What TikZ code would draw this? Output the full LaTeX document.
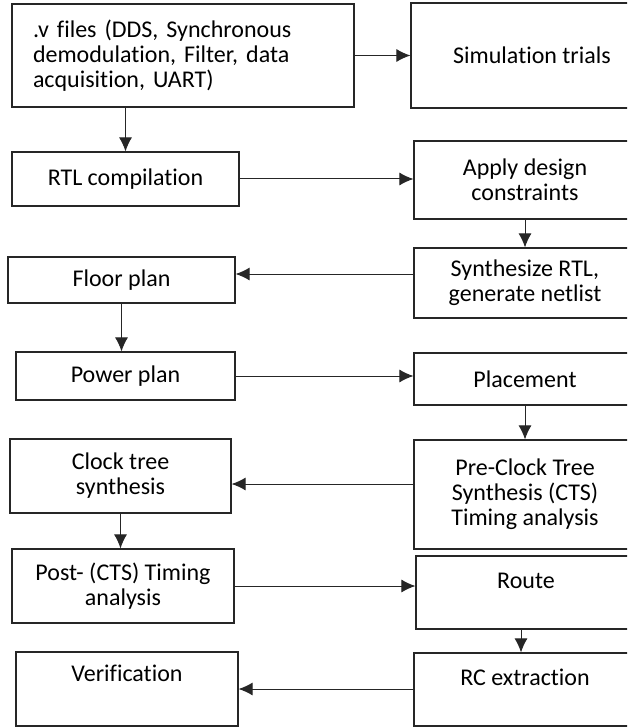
\documentclass[tikz,border=0pt]{standalone}
\usepackage{fontspec}
\setmainfont{Carlito}[RawFeature={-liga;-clig;-calt;-rlig;-dlig}]
\usepackage{tikz}
\usetikzlibrary{shapes,arrows}
\usetikzlibrary{arrows.meta}
\tikzstyle{block} = [rectangle, draw=black!85, line width=1.2pt, inner sep=0pt,
    align=center, font=\fontsize{24}{25}\selectfont]
\tikzstyle{line} = [draw, black!85, line width=1pt, -{Latex[length=14pt, width=13pt]}]

\begin{document}
\begin{tikzpicture}[x=1pt, y=-1pt]
  \clip (0,0) rectangle (627,727);
  % nodes
  \node [block, minimum width=342pt, minimum height=103pt, text width=300pt, align=left](vfiles) at (183,55.5){.v files (DDS, Synchronous\\demodulation, Filter, data\\acquisition, UART)};
  \node [block, minimum width=242pt, minimum height=105pt](sim) at (532,55.5){Simulation trials};
  \node [block, minimum width=227pt, minimum height=54pt](rtl) at (125.5,179){RTL compilation};
  \node [block, minimum width=222pt, minimum height=78pt](apply) at (525,180){Apply design\\constraints};
  \node [block, minimum width=222pt, minimum height=70pt](synth) at (525,283){Synthesize RTL,\\generate netlist};
  \node [block, minimum width=227pt, minimum height=46pt](floor) at (121.5,280){Floor plan};
  \node [block, minimum width=219pt, minimum height=48pt](power) at (125.5,376){Power plan};
  \node [block, minimum width=222pt, minimum height=52pt](place) at (525,379){Placement};
  \node [block, minimum width=221pt, minimum height=74pt](clock) at (120.5,476){Clock tree\\synthesis};
  \node [block, minimum width=222pt, minimum height=109pt](pre) at (525,494.5){Pre-Clock Tree\\Synthesis (CTS)\\Timing analysis};
  \node [block, minimum width=222pt, minimum height=74pt](post) at (123,586){Post- (CTS) Timing\\analysis};
  \node [block, minimum width=220pt, text height=32pt, text depth=41pt](route) at (526,592.5){Route};
  \node [block, minimum width=222pt, text height=29pt, text depth=45pt](verif) at (127,689){Verification};
  \node [block, minimum width=222pt, text height=32pt, text depth=41pt](rc) at (525,689.5){RC extraction};
  % edges
  \path [line] (vfiles) -- (sim);
  \path [line] (vfiles.south -| rtl.north) -- (rtl.north);
  \path [line] (rtl.east) -- (rtl.east -| apply.west);
  \path [line] (apply.south) -- (apply.south |- synth.north);
  \path [line] ([yshift=6pt]floor.east -| synth.west) -- ([yshift=6pt]floor.east);
  \path [line] (floor.south) -- (floor.south |- power.north);
  \path [line] (power.east) -- (power.east -| place.west);
  \path [line] (place.south) -- (place.south |- pre.north);
  \path [line] ([yshift=-8pt]clock.east -| pre.west) -- ([yshift=-8pt]clock.east);
  \path [line] (clock.south) -- (clock.south |- post.north);
  \path [line] (post.east) -- (post.east -| route.west);
  \path [line] ([xshift=-5pt]route.south) -- ([xshift=-5pt]route.south |- rc.north);
  \path [line] (verif.east -| rc.west) -- (verif.east);
\end{tikzpicture}
\end{document}
